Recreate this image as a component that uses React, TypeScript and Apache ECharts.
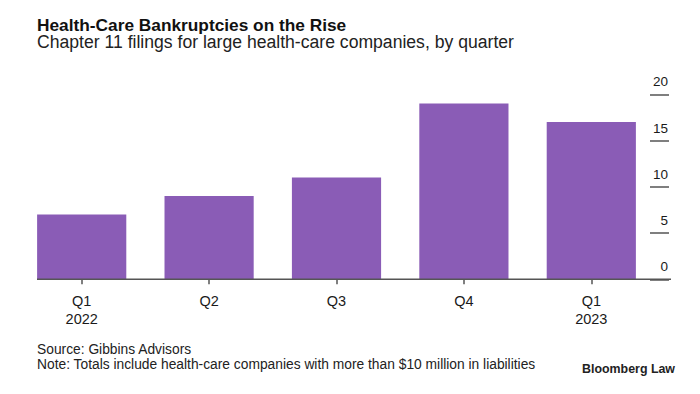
import React, { useEffect, useRef } from "react";
import * as echarts from "echarts";

const quarters = ["Q1\n2022", "Q2", "Q3", "Q4", "Q1\n2023"];
const filings = [7, 9, 11, 19, 17];
const yTicks = { min: 0, max: 20, interval: 5 };

const titleText = "Health-Care Bankruptcies on the Rise";
const subtitleText = "Chapter 11 filings for large health-care companies, by quarter";
const sourceText = "Source: Gibbins Advisors";
const noteText = "Note: Totals include health-care companies with more than $10 million in liabilities";
const brandText = "Bloomberg Law";

const FONT = "'Liberation Sans', Arial, Helvetica, sans-serif";

function texts() {
  return [
    {
      type: "text", left: 37, top: 16,
      style: { text: titleText, fontFamily: FONT, fontWeight: "bold", fontSize: 17.3, lineHeight: 16, fill: "#111" },
    },
    {
      type: "text", left: 37, top: 32.5,
      style: { text: subtitleText, fontFamily: FONT, fontSize: 17.6, lineHeight: 17, fill: "#222" },
    },
    {
      type: "text", left: 37, top: 342.5,
      style: { text: sourceText, fontFamily: FONT, fontSize: 13.8, lineHeight: 14, fill: "#222" },
    },
    {
      type: "text", left: 37, top: 357,
      style: { text: noteText, fontFamily: FONT, fontSize: 13.8, lineHeight: 14, fill: "#222" },
    },
    {
      type: "text", right: 25, top: 362.5,
      style: { text: brandText, fontFamily: FONT, fontWeight: "bold", fontSize: 12.4, lineHeight: 13, fill: "#222" },
    },
  ];
}

export default function App() {
  const ref = useRef<HTMLDivElement>(null);
  useEffect(() => {
    if (!ref.current) return;
    const chart = echarts.init(ref.current, null, { renderer: "svg" });
    const option: any = {
      animation: false,
      backgroundColor: "#ffffff",
      textStyle: { fontFamily: FONT },
      grid: { left: 18, right: 45, top: 94.3, bottom: 114.7, containLabel: false },
      xAxis: {
        type: "category",
        data: quarters,
        axisLine: { show: false },
        axisTick: { show: true, alignWithLabel: true, length: 5, lineStyle: { color: "#555", width: 1.5 } },
        axisLabel: { color: "#1a1a1a", fontSize: 14.5, lineHeight: 18, margin: 12.5, fontFamily: FONT },
      },
      yAxis: {
        type: "value",
        position: "right",
        offset: -5,
        min: yTicks.min,
        max: yTicks.max,
        interval: yTicks.interval,
        splitLine: { show: false },
        axisLine: { show: false },
        axisTick: { show: true, inside: false, length: 19, lineStyle: { color: "#555", width: 1.5 } },
        axisLabel: {
          color: "#1a1a1a",
          fontSize: 13.5,
          margin: 18,
          align: "right",
          verticalAlign: "bottom",
          lineHeight: 25,
          fontFamily: FONT,
        },
      },
      series: [
        {
          type: "bar",
          data: filings,
          barCategoryGap: "30%",
          itemStyle: { color: "#8A5CB6" },
        },
      ],
      graphic: texts(),
    };
    chart.setOption(option);
    const base = chart.convertToPixel({ xAxisIndex: 0, yAxisIndex: 0 }, [0, 0]) as number[];
    chart.setOption({
      graphic: [
        ...texts(),
        {
          type: "line",
          shape: { x1: 37, y1: base[1], x2: 671, y2: base[1] },
          style: { stroke: "#555", lineWidth: 1.5 },
          z: 10,
        },
      ],
    });
    return () => chart.dispose();
  }, []);
  return <div ref={ref} style={{ width: 700, height: 394, position: "absolute", left: 0, top: 0 }} />;
}
